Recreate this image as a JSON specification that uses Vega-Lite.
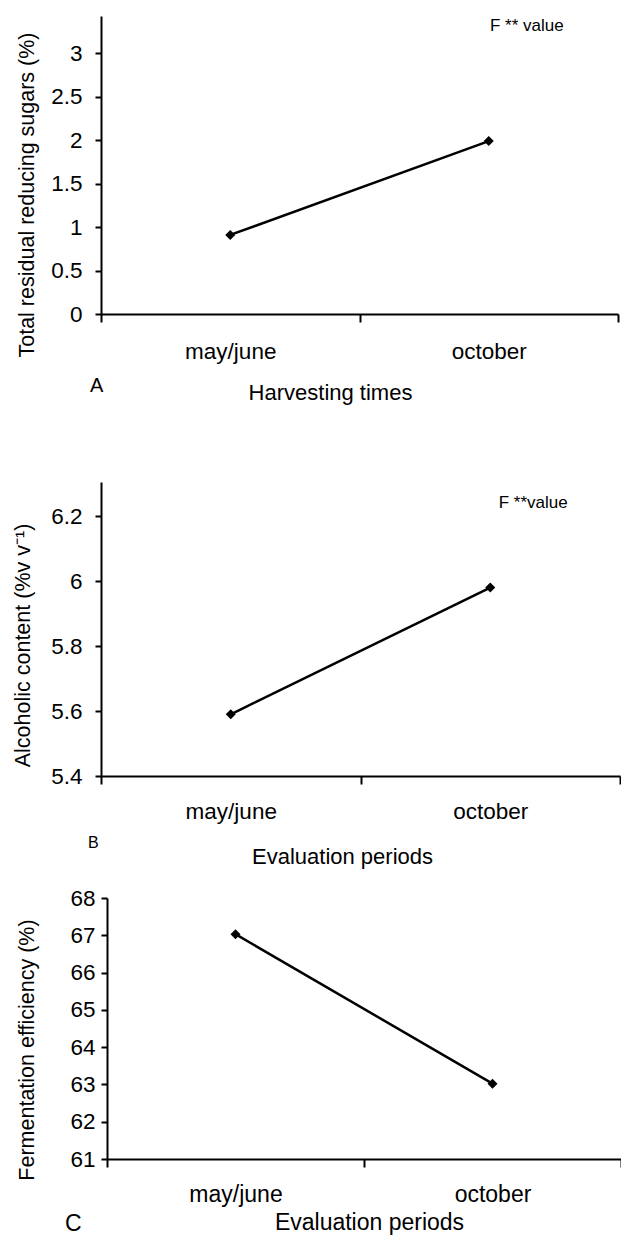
{
  "$schema": "https://vega.github.io/schema/vega-lite/v6.json",
  "padding": {"top": 16, "left": 12, "right": 0, "bottom": 0},
  "background": "white",
  "config": {
    "font": "Liberation Sans",
    "view": {"stroke": null},
    "axis": {
      "domainColor": "black", "domainWidth": 2, "tickColor": "black", "tickWidth": 2,
      "labelColor": "black", "titleColor": "black", "labelFont": "Liberation Sans", "titleFont": "Liberation Sans",
      "titleFontWeight": "normal", "grid": false, "labelFontSize": 22.5, "titleFontSize": 22
    },
    "axisY": {"titleFontSize": 21.5},
    "title": {"fontWeight": "normal", "color": "black", "font": "Liberation Sans"}
  },
  "spacing": 20,
  "vconcat": [
    {
      "spacing": 79,
      "vconcat": [
        {
          "width": 517, "height": 298,
          "title": {"text": "A", "orient": "bottom", "anchor": "start", "frame": "group", "fontSize": 20, "dx": -11, "dy": -11, "offset": 0, "baseline": "alphabetic"},
          "layer": [
            {
              "data": {"values": [{"time": "may/june", "value": 0.91}, {"time": "october", "value": 1.99}]},
              "mark": {"type": "line", "color": "black", "strokeWidth": 2.5, "point": {"shape": "diamond", "size": 100, "filled": true, "color": "black", "opacity": 1}},
              "encoding": {
                "x": {"field": "time", "type": "nominal", "sort": ["may/june", "october"], "scale": {"paddingInner": 0, "paddingOuter": 0},
                  "axis": {"title": "Harvesting times", "labelAngle": 0, "tickBand": "extent", "tickSize": 8, "labelPadding": 36, "labelBaseline": "alphabetic",
                    "titleX": 229, "titleY": 85, "titleBaseline": "alphabetic", "titleAlign": "center"}},
                "y": {"field": "value", "type": "quantitative", "scale": {"domain": [0, 3.43], "nice": false, "zero": false},
                  "axis": {"title": "Total residual reducing sugars (%)", "values": [0, 0.5, 1, 1.5, 2, 2.5, 3], "format": "~g", "tickSize": 6, "labelPadding": 13,
                    "titleX": -68, "titleY": 178.5, "titleBaseline": "alphabetic", "titleAlign": "center"}}
              }
            },
            {
              "data": {"values": [{"time": "october", "value": 3.32, "label": "F  ** value"}]},
              "mark": {"type": "text", "fontSize": 17, "color": "black", "dx": 38},
              "encoding": {
                "x": {"field": "time", "type": "nominal", "sort": ["may/june", "october"]},
                "y": {"field": "value", "type": "quantitative"},
                "text": {"field": "label"}
              }
            }
          ]
        },
        {
          "width": 519, "height": 294,
          "title": {"text": "B", "orient": "bottom", "anchor": "start", "frame": "group", "fontSize": 16, "dx": -13, "dy": -19, "offset": 0, "baseline": "alphabetic"},
          "layer": [
            {
              "data": {"values": [{"time": "may/june", "value": 5.59}, {"time": "october", "value": 5.98}]},
              "mark": {"type": "line", "color": "black", "strokeWidth": 2.5, "point": {"shape": "diamond", "size": 100, "filled": true, "color": "black", "opacity": 1}},
              "encoding": {
                "x": {"field": "time", "type": "nominal", "sort": ["may/june", "october"], "scale": {"paddingInner": 0, "paddingOuter": 0},
                  "axis": {"title": "Evaluation periods", "labelAngle": 0, "tickBand": "extent", "tickSize": 8, "labelPadding": 34, "labelBaseline": "alphabetic",
                    "titleX": 241, "titleY": 87, "titleBaseline": "alphabetic", "titleAlign": "center"}},
                "y": {"field": "value", "type": "quantitative", "scale": {"domain": [5.4, 6.305], "nice": false, "zero": false},
                  "axis": {"title": "Alcoholic content (%v v⁻¹)", "values": [5.4, 5.6, 5.8, 6, 6.2], "format": "~g", "tickSize": 6, "labelPadding": 13,
                    "titleX": -72, "titleY": 163, "titleBaseline": "alphabetic", "titleAlign": "center"}}
              }
            },
            {
              "data": {"values": [{"time": "october", "value": 6.24, "label": "F **value"}]},
              "mark": {"type": "text", "fontSize": 17, "color": "black", "dx": 43},
              "encoding": {
                "x": {"field": "time", "type": "nominal", "sort": ["may/june", "october"]},
                "y": {"field": "value", "type": "quantitative"},
                "text": {"field": "label"}
              }
            }
          ]
        }
      ]
    },
    {
      "width": 520, "height": 261,
      "title": {"text": "C", "orient": "bottom", "anchor": "start", "frame": "group", "fontSize": 23, "dx": -36, "dy": -3, "offset": 0, "baseline": "alphabetic"},
      "data": {"values": [{"time": "may/june", "value": 67.03}, {"time": "october", "value": 63.02}]},
      "mark": {"type": "line", "color": "black", "strokeWidth": 2.5, "point": {"shape": "diamond", "size": 100, "filled": true, "color": "black", "opacity": 1}},
      "encoding": {
        "x": {"field": "time", "type": "nominal", "sort": ["may/june", "october"], "scale": {"paddingInner": 0, "paddingOuter": 0, "range": [6, 520]},
          "axis": {"title": "Evaluation periods", "labelAngle": 0, "tickBand": "extent", "tickSize": 8, "labelPadding": 34, "labelBaseline": "alphabetic", "labelFontSize": 23, "titleFontSize": 23,
            "titleX": 268, "titleY": 70, "titleBaseline": "alphabetic", "titleAlign": "center"}},
        "y": {"field": "value", "type": "quantitative", "scale": {"domain": [61, 68], "nice": false, "zero": false},
          "axis": {"title": "Fermentation efficiency (%)", "values": [61, 62, 63, 64, 65, 66, 67, 68], "format": "~g", "tickSize": 6, "labelPadding": 6, "offset": -6,
            "titleX": -74, "titleY": 151.5, "titleBaseline": "alphabetic", "titleAlign": "center"}}
      }
    }
  ]
}
